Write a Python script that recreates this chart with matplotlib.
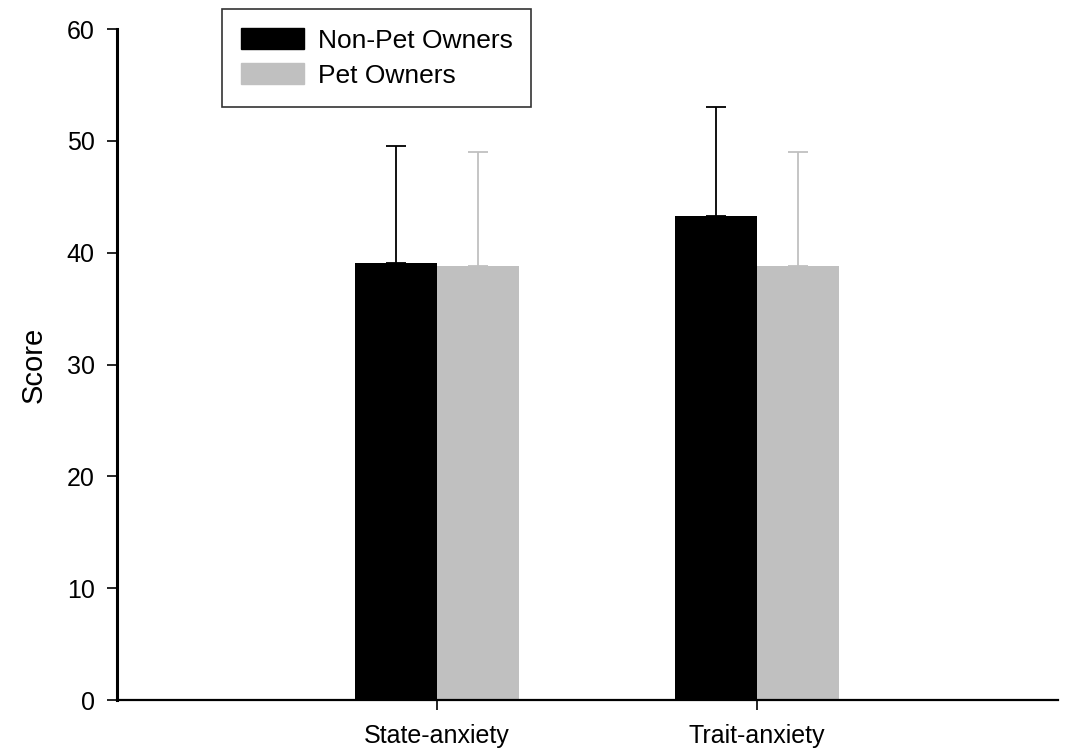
import matplotlib.pyplot as plt
import numpy as np
from matplotlib.patches import Rectangle

plt.rcParams['font.family'] = ['Liberation Sans', 'DejaVu Sans']

# mean scores and upper SD per group
categories = ['State-anxiety', 'Trait-anxiety']
non_pet_means = [39.1, 43.3]
non_pet_sd = [10.4, 9.7]
pet_means = [38.8, 38.8]
pet_sd = [10.2, 10.2]
series_names = ['Non-Pet Owners', 'Pet Owners']

black = '#000000'
grey = '#c0c0c0'

fig = plt.figure(figsize=(10.7, 7.54), dpi=100)
ax = fig.add_axes([0.1093, 0.0716, 0.8795, 0.8899])

x = np.arange(len(categories))
w = 0.256

ax.bar(x - w / 2, non_pet_means, width=w, color=black, zorder=2)
ax.bar(x + w / 2, pet_means, width=w, color=grey, zorder=2)

ax.errorbar(x - w / 2, non_pet_means, yerr=[np.zeros(2), non_pet_sd],
            fmt='none', ecolor=black, elinewidth=1.3, capsize=7.5, capthick=1.3, zorder=1)
ax.errorbar(x + w / 2, pet_means, yerr=[np.zeros(2), pet_sd],
            fmt='none', ecolor=grey, elinewidth=1.3, capsize=7.5, capthick=1.3, zorder=1)

ax.set_xlim(-1.0, 1.94)
ax.set_ylim(0, 60)
ax.set_yticks(np.arange(0, 61, 10))
ax.set_xticks(x)
ax.set_xticklabels(categories)

for s in ['top', 'right']:
    ax.spines[s].set_visible(False)
ax.spines['left'].set_linewidth(2.2)
ax.spines['bottom'].set_linewidth(1.6)

ax.tick_params(axis='both', direction='out', labelsize=18, length=7, width=1.2, pad=9)
ax.tick_params(axis='x', pad=10)
ax.set_ylabel('Score', fontsize=21, labelpad=14)

handles = [Rectangle((0, 0), 1, 1, color=black), Rectangle((0, 0), 1, 1, color=grey)]
leg = fig.legend(handles, series_names, loc='upper left',
                 bbox_to_anchor=(222 / 1070, 1 - 9 / 754),
                 fontsize=19, frameon=True, fancybox=False, edgecolor='black',
                 handlelength=2.4, handleheight=0.85, handletextpad=0.5,
                 borderpad=0.72, labelspacing=0.4, borderaxespad=0)
leg.get_frame().set_linewidth(1.2)

fig.savefig('out.png', dpi=100)
